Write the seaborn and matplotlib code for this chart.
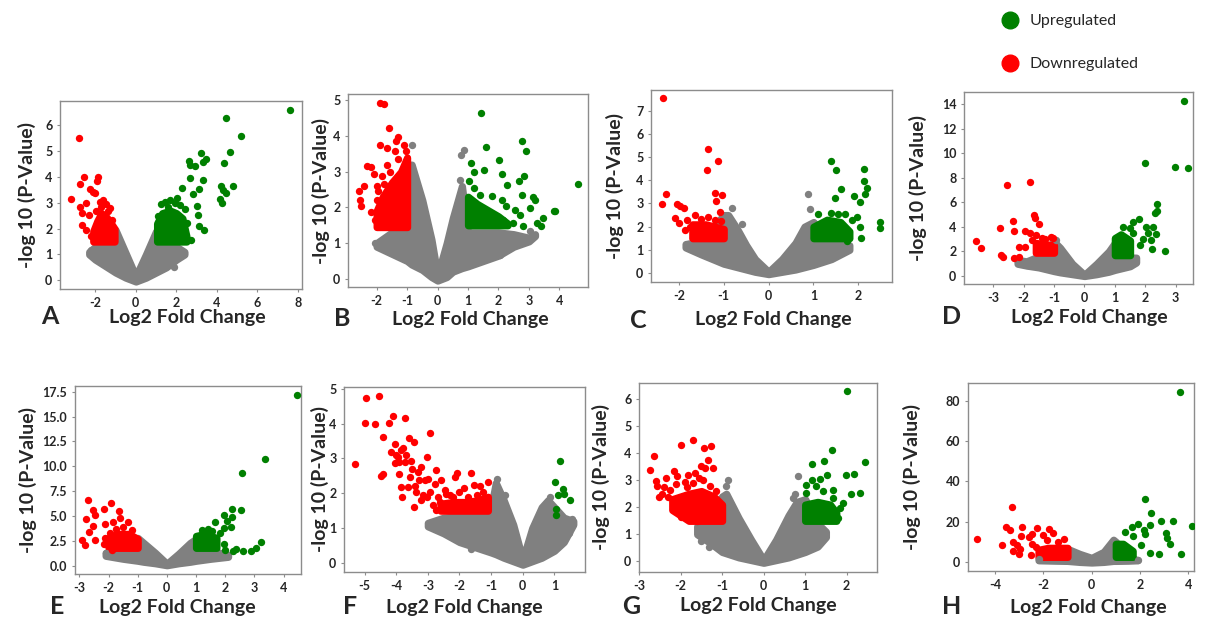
import matplotlib
matplotlib.use("Agg")
import matplotlib.pyplot as plt
from matplotlib.lines import Line2D
import seaborn as sns

# ---------------- data ----------------
# Panel A
A_gray_x = [-2.3, -2.0, -1.5, -1.0, -0.5, 0.0, 0.5, 1.0, 1.5, 2.0, 2.4]
A_gray_lo = [1.0, 0.8, 0.55, 0.3, 0.1, -0.05, 0.1, 0.3, 0.5, 0.8, 1.0]
A_gray_hi = [1.1, 1.3, 1.4, 1.95, 1.05, 0.15, 1.0, 1.9, 1.4, 1.3, 1.1]
A_gray_px = [-2.22, 2.27, 1.86]
A_gray_py = [1.17, 1.04, 0.53]
A_redblk_x = [-2.1, -1.9, -1.7, -1.5, -1.3, -1.05]
A_redblk_lo = [1.5, 1.5, 1.5, 1.5, 1.5, 1.5]
A_redblk_hi = [1.9, 2.3, 2.6, 2.5, 2.3, 2.0]
A_red_x = [-2.80, -3.19, -2.58, -2.75, -1.88, -1.93, -2.26, -2.00, -2.75, -2.47, -2.67, -2.29, -2.65, -2.45, -1.27, -1.76, -2.09, -1.62, -1.45, -1.35, -1.95, -2.20, -1.15, -1.70]
A_red_y = [5.50, 3.14, 4.01, 3.73, 3.99, 3.86, 3.52, 3.39, 2.85, 2.98, 2.62, 2.53, 2.14, 1.95, 2.79, 3.05, 3.43, 3.10, 2.95, 2.70, 2.70, 1.70, 2.35, 2.85]
A_grnblk_x = [1.05, 1.3, 1.7, 2.0, 2.3, 2.5]
A_grnblk_lo = [1.5, 1.5, 1.5, 1.5, 1.5, 1.5]
A_grnblk_hi = [2.2, 2.6, 2.7, 2.6, 2.4, 1.7]
A_grn_x = [7.59, 4.46, 5.20, 4.66, 4.36, 4.82, 4.21, 4.30, 4.43, 4.16, 4.25, 3.21, 3.47, 3.31, 2.63, 2.68, 2.93, 2.68, 3.31, 2.30, 3.13, 2.81, 3.01, 3.06, 3.37, 3.13, 2.72, 2.55, 1.25, 1.45, 1.70, 1.95, 2.20, 2.45, 1.10, 1.60, 2.05]
A_grn_y = [6.59, 6.31, 5.59, 4.98, 4.55, 3.65, 3.65, 3.50, 3.37, 3.14, 3.01, 4.92, 4.72, 4.59, 4.63, 4.46, 4.43, 3.95, 3.88, 3.56, 3.52, 3.34, 2.88, 2.53, 1.95, 2.10, 1.56, 2.21, 2.95, 3.05, 3.10, 3.00, 2.90, 2.75, 2.50, 2.85, 3.20]

# Panel B
B_gray_x = [-2.0, -1.5, -1.0, -0.85, -0.5, -0.2, 0.0, 0.3, 0.5, 0.8, 1.0, 1.5, 2.0, 2.5, 3.0, 3.2]
B_gray_lo = [0.9, 0.7, 0.5, 0.4, 0.25, 0.05, -0.05, 0.05, 0.2, 0.3, 0.35, 0.5, 0.65, 0.9, 1.05, 1.2]
B_gray_hi = [1.0, 1.3, 3.2, 3.2, 2.2, 1.1, 0.1, 1.0, 1.7, 2.6, 1.3, 1.3, 1.3, 1.25, 1.15, 1.25]
B_gray_px = [-0.83, 0.76, 0.87, 0.73, -2.06, 3.02, 2.32, 2.60, 2.05, 1.78]
B_gray_py = [3.76, 3.46, 3.60, 2.78, 1.00, 1.33, 1.00, 1.00, 0.67, 0.63]
B_redblk_x = [-2.0, -1.8, -1.5, -1.2, -1.0]
B_redblk_lo = [1.45, 1.45, 1.45, 1.45, 1.45]
B_redblk_hi = [1.9, 2.3, 2.7, 3.0, 3.4]
B_red_x = [-1.88, -1.75, -1.59, -1.88, -1.29, -1.35, -1.66, -1.40, -1.02, -2.30, -2.17, -2.09, -2.42, -2.00, -2.58, -2.56, -2.52, -2.20, -1.98, -1.81, -1.66, -1.95, -1.75, -1.55, -1.30, -1.10, -2.05]
B_red_y = [4.94, 4.91, 4.22, 3.76, 3.97, 3.87, 3.68, 3.57, 3.57, 3.17, 3.13, 2.93, 2.59, 2.59, 2.45, 2.21, 2.05, 1.86, 2.21, 2.87, 3.20, 2.45, 2.65, 3.00, 3.35, 3.75, 1.65]
B_grnblk_x = [1.0, 1.3, 1.6, 2.0, 2.3]
B_grnblk_lo = [1.5, 1.5, 1.5, 1.5, 1.5]
B_grnblk_hi = [2.3, 2.1, 1.95, 1.75, 1.55]
B_grn_x = [1.43, 1.58, 4.61, 2.77, 2.91, 1.09, 2.02, 1.20, 1.52, 2.11, 2.27, 2.68, 2.84, 2.76, 3.15, 3.20, 1.03, 1.20, 1.39, 1.78, 2.11, 2.25, 2.54, 2.71, 3.04, 3.83, 3.87, 3.45, 3.39, 3.26, 2.49, 2.82, 2.16]
B_grn_y = [4.66, 3.69, 2.65, 3.85, 3.57, 3.24, 3.34, 2.98, 3.06, 2.93, 2.64, 2.75, 2.87, 2.36, 2.29, 2.20, 2.73, 2.54, 2.36, 2.31, 2.21, 2.05, 1.92, 1.79, 1.98, 1.89, 1.89, 1.70, 1.47, 1.56, 1.56, 1.47, 1.65]

# Panel C
C_gray_x = [-1.85, -1.5, -1.0, -0.9, -0.7, -0.5, -0.3, 0.0, 0.3, 0.6, 0.8, 1.0, 1.4, 1.8]
C_gray_lo = [1.1, 0.8, 0.4, 0.35, 0.25, 0.15, 0.05, -0.05, 0.05, 0.15, 0.25, 0.35, 0.6, 1.0]
C_gray_hi = [1.25, 1.35, 2.5, 2.5, 1.9, 1.2, 0.6, 0.05, 0.6, 1.3, 2.0, 2.2, 1.35, 1.2]
C_gray_px = [-0.82, -0.60, -1.80, 0.88, 0.92, 1.45, 1.55, 1.62]
C_gray_py = [2.80, 2.10, 1.25, 3.40, 2.75, 0.70, 0.80, 0.85]
C_redblk_x = [-1.7, -1.4, -1.2, -1.0]
C_redblk_lo = [1.5, 1.5, 1.5, 1.5]
C_redblk_hi = [2.1, 2.1, 2.0, 1.9]
C_red_x = [-2.36, -2.28, -2.38, -1.34, -1.12, -1.38, -1.19, -1.04, -1.17, -1.09, -2.03, -1.97, -1.88, -2.08, -2.00, -1.81, -1.86, -1.65, -1.50, -1.35, -1.20, -1.05, -1.75]
C_red_y = [7.55, 3.41, 2.97, 5.35, 4.85, 4.44, 3.46, 3.36, 3.12, 2.64, 2.96, 2.89, 2.79, 2.38, 2.14, 2.28, 1.85, 2.50, 2.35, 2.40, 2.30, 2.25, 2.00]
C_grnblk_x = [1.0, 1.3, 1.6, 1.8]
C_grnblk_lo = [1.5, 1.5, 1.5, 1.5]
C_grnblk_hi = [2.0, 2.3, 2.2, 1.8]
C_grn_x = [1.39, 1.51, 2.12, 2.12, 2.19, 1.62, 1.47, 1.90, 2.14, 2.03, 2.49, 2.48, 2.06, 1.75, 1.97, 2.04, 1.10, 1.40, 1.55, 1.70, 1.85]
C_grn_y = [4.83, 4.44, 4.49, 3.97, 3.68, 3.62, 3.25, 3.32, 3.39, 3.07, 2.21, 1.95, 1.53, 1.37, 2.42, 1.99, 2.55, 2.60, 2.55, 2.55, 2.30]

# Panel D
D_gray_x = [-2.2, -1.9, -1.5, -1.0, -0.8, -0.4, 0.0, 0.4, 0.8, 1.0, 1.5, 1.7]
D_gray_lo = [1.0, 0.85, 0.7, 0.4, 0.3, 0.15, 0.0, 0.15, 0.35, 0.5, 0.8, 1.1]
D_gray_hi = [1.3, 1.2, 1.6, 2.8, 2.3, 1.0, 0.1, 1.0, 2.0, 2.7, 1.5, 1.5]
D_gray_px = [-2.19, -1.89, -0.92]
D_gray_py = [1.30, 0.90, 2.90]
D_redblk_x = [-1.6, -1.3, -1.0]
D_redblk_lo = [1.9, 1.9, 1.9]
D_redblk_hi = [2.7, 2.6, 2.5]
D_red_x = [-2.54, -1.78, -3.58, -3.41, -2.76, -2.74, -2.67, -2.34, -2.30, -2.32, -2.16, -2.16, -1.97, -1.94, -1.80, -1.65, -1.61, -1.50, -1.58, -1.72, -1.40, -1.31, -1.10, -1.04]
D_red_y = [7.41, 7.68, 2.85, 2.25, 3.88, 1.71, 1.57, 4.50, 3.69, 1.44, 1.52, 2.33, 3.69, 2.33, 3.53, 4.96, 4.69, 4.23, 3.34, 2.93, 3.07, 2.98, 3.20, 3.07]
D_grnblk_x = [1.0, 1.2, 1.5]
D_grnblk_lo = [1.7, 1.7, 1.7]
D_grnblk_hi = [3.1, 3.4, 2.9]
D_grn_x = [3.26, 1.98, 2.97, 3.40, 2.37, 2.37, 2.31, 1.80, 1.60, 2.04, 2.26, 2.09, 2.34, 2.20, 2.64, 2.22, 1.82, 1.60, 1.91, 1.49, 1.28, 1.36]
D_grn_y = [14.27, 9.25, 8.90, 8.82, 5.86, 5.32, 5.10, 4.61, 4.42, 4.02, 3.96, 3.47, 3.42, 2.93, 2.06, 2.17, 2.52, 3.47, 2.98, 3.88, 4.02, 2.66]

# Panel E
E_gray_x = [-2.1, -1.5, -1.0, -0.8, -0.4, 0.0, 0.4, 0.8, 1.0, 1.5, 2.1]
E_gray_lo = [1.0, 0.7, 0.5, 0.4, 0.25, 0.05, 0.25, 0.4, 0.5, 0.7, 0.9]
E_gray_hi = [1.3, 1.5, 2.8, 2.3, 1.3, 0.2, 1.2, 2.3, 2.7, 1.5, 1.1]
E_gray_px = [-2.10, 2.05]
E_gray_py = [1.30, 1.00]
E_redblk_x = [-2.0, -1.7, -1.3, -1.0]
E_redblk_lo = [1.8, 1.8, 1.8, 1.8]
E_redblk_hi = [2.8, 3.2, 3.2, 2.7]
E_red_x = [-2.72, -1.91, -2.54, -2.46, -2.78, -2.15, -1.63, -1.32, -1.60, -2.54, -2.13, -1.83, -2.66, -2.90, -2.46, -2.81, -2.13, -2.15, -1.89, -1.75, -1.50, -1.20, -1.95]
E_red_y = [6.56, 6.35, 5.62, 5.12, 4.68, 5.69, 5.52, 4.35, 4.78, 3.95, 4.21, 4.35, 3.44, 2.61, 2.61, 2.11, 2.78, 2.21, 1.61, 3.70, 3.90, 3.60, 3.30]
E_grnblk_x = [1.0, 1.3, 1.7]
E_grnblk_lo = [1.8, 1.8, 1.8]
E_grnblk_hi = [3.0, 3.2, 2.8]
E_grn_x = [4.45, 3.37, 2.56, 2.54, 2.22, 1.97, 2.22, 2.07, 1.65, 2.19, 1.95, 1.83, 3.22, 3.05, 2.90, 2.60, 2.36, 2.27, 1.95, 2.01, 1.20, 1.40, 1.55]
E_grn_y = [17.16, 10.70, 9.30, 5.62, 5.69, 5.12, 4.88, 4.45, 4.35, 3.85, 3.78, 3.34, 2.37, 1.77, 1.44, 1.44, 1.67, 1.44, 2.21, 1.61, 3.60, 3.70, 3.50]

# Panel F
F_gray_x = [-3.0, -2.5, -2.0, -1.5, -1.0, -0.85, -0.6, -0.3, 0.0, 0.3, 0.6, 0.8, 1.0, 1.3, 1.6]
F_gray_lo = [1.05, 0.85, 0.6, 0.45, 0.3, 0.25, 0.15, 0.05, -0.05, 0.05, 0.15, 0.25, 0.35, 0.6, 1.1]
F_gray_hi = [1.15, 1.3, 1.35, 1.4, 1.6, 2.3, 1.8, 1.1, 0.1, 1.0, 1.6, 1.8, 1.6, 1.3, 1.2]
F_gray_px = [-2.89, -2.52, -1.62, -0.82, -0.65, -0.55, 0.85, 1.55, 1.45, 1.25]
F_gray_py = [1.11, 1.03, 0.41, 2.42, 1.90, 1.95, 1.90, 1.25, 0.85, 0.90]
F_redblk_x = [-2.6, -2.2, -1.8, -1.4, -1.1]
F_redblk_lo = [1.5, 1.5, 1.5, 1.5, 1.5]
F_redblk_hi = [1.7, 1.75, 1.75, 1.8, 1.9]
F_red_x = [-5.30, -4.97, -4.55, -5.00, -4.66, -4.24, -4.10, -3.73, -4.42, -2.94, -3.60, -3.45, -4.42, -4.49, -4.05, -4.15, -3.84, -3.94, -4.05, -3.73, -3.52, -3.92, -3.86, -3.82, -3.45, -3.20, -3.01, -3.10, -3.29, -3.57, -2.78, -2.94, -3.20, -2.75, -2.67, -2.41, -2.57, -2.73, -2.15, -2.09, -1.62, -1.11, -1.35, -2.20, -1.72, -1.46, -3.04, -3.36, -3.63, -3.90, -3.70, -3.50, -3.30, -3.40, -3.00, -2.60, -3.80, -4.00, -2.85, -2.45, -2.00, -1.85, -1.55, -1.25, -3.15, -2.30]
F_red_y = [2.85, 4.74, 4.79, 4.02, 3.98, 4.02, 4.21, 4.16, 3.61, 3.74, 3.59, 3.47, 2.56, 2.49, 3.42, 3.18, 3.23, 3.04, 2.87, 2.90, 2.94, 2.56, 2.18, 1.89, 1.61, 2.75, 3.04, 2.37, 2.37, 2.47, 2.28, 2.04, 1.80, 2.66, 1.89, 1.99, 2.37, 1.51, 2.47, 2.58, 2.58, 2.32, 2.20, 1.89, 1.89, 1.94, 1.89, 2.04, 2.18, 2.90, 3.10, 2.70, 2.60, 2.20, 2.40, 1.75, 3.30, 3.10, 1.65, 2.10, 2.05, 2.15, 2.25, 2.05, 1.95, 1.95]
F_grn_x = [1.18, 1.03, 1.29, 1.32, 1.13, 1.50, 1.05, 1.05]
F_grn_y = [2.93, 2.32, 2.13, 1.97, 1.94, 1.82, 1.56, 1.37]

# Panel G
G_gray_x = [-1.6, -1.3, -1.0, -0.9, -0.6, -0.3, 0.0, 0.3, 0.6, 0.8, 1.0, 1.3, 1.5]
G_gray_lo = [1.0, 0.7, 0.35, 0.3, 0.15, 0.05, -0.05, 0.05, 0.15, 0.25, 0.35, 0.55, 0.9]
G_gray_hi = [1.3, 1.4, 2.4, 2.5, 1.6, 0.8, 0.05, 0.8, 1.7, 2.2, 2.3, 1.4, 1.1]
G_gray_px = [-0.86, -0.91, -1.51, -1.31, -0.95, 0.83, 0.70, 0.76]
G_gray_py = [3.02, 2.77, 0.74, 0.55, 0.43, 3.14, 2.34, 2.50]
G_redblk_x = [-2.2, -1.8, -1.5, -1.2, -1.0]
G_redblk_lo = [1.9, 1.5, 1.5, 1.5, 1.5]
G_redblk_hi = [2.3, 2.5, 2.6, 2.4, 2.1]
G_red_x = [-2.74, -2.64, -1.98, -1.71, -1.43, -1.27, -1.33, -1.23, -1.41, -1.51, -2.60, -2.56, -2.52, -2.34, -2.16, -2.08, -2.29, -2.02, -2.00, -1.60, -1.83, -1.55, -2.40, -2.25, -2.10, -1.90, -1.70, -1.45, -1.30, -1.15, -2.45, -1.85, -1.65]
G_red_y = [3.36, 3.90, 4.29, 4.47, 4.19, 4.27, 3.73, 3.45, 3.45, 3.51, 2.96, 2.77, 2.38, 3.08, 3.33, 3.14, 2.38, 1.85, 1.63, 1.48, 3.20, 3.08, 2.75, 2.65, 2.85, 2.95, 2.90, 3.00, 2.80, 2.60, 2.50, 2.75, 3.25]
G_grnblk_x = [1.0, 1.3, 1.6, 1.75]
G_grnblk_lo = [1.5, 1.5, 1.5, 1.5]
G_grnblk_hi = [2.1, 2.2, 2.1, 1.8]
G_grn_x = [2.00, 2.44, 1.98, 2.18, 2.10, 2.32, 1.65, 1.45, 1.17, 1.53, 1.35, 1.17, 1.02, 1.03, 1.27, 1.43, 1.67, 1.67, 1.90, 1.79, 1.83]
G_grn_y = [6.28, 3.69, 3.20, 3.23, 2.50, 2.52, 4.13, 3.72, 3.60, 3.18, 3.04, 2.99, 2.83, 2.52, 2.77, 2.59, 2.65, 2.34, 2.16, 1.60, 1.97]

# Panel H
H_gray_x = [-2.2, -1.5, -1.0, -0.5, 0.0, 0.5, 0.9, 1.0, 1.5, 1.9]
H_gray_lo = [0.8, 0.6, 0.5, 0.0, -0.3, 0.0, 0.5, 0.5, 0.6, 0.8]
H_gray_hi = [1.5, 2.0, 6.5, 4.0, 2.0, 5.0, 11.0, 10.0, 2.0, 1.0]
H_gray_px = [-2.20, 1.90]
H_gray_py = [1.5, 1.0]
H_redblk_x = [-2.2, -1.8, -1.4, -1.0]
H_redblk_lo = [2.5, 2.5, 2.5, 2.5]
H_redblk_hi = [6.0, 7.0, 7.0, 7.0]
H_red_x = [-4.74, -3.29, -3.54, -3.36, -3.70, -3.26, -3.09, -2.88, -2.91, -3.26, -3.01, -2.45, -2.47, -2.25, -2.01, -1.78, -1.60, -1.84, -1.15, -1.39, -2.59, -2.98, -2.29, -2.50]
H_red_y = [11.6, 27.3, 17.4, 15.7, 8.3, 9.9, 8.3, 17.4, 12.9, 5.5, 4.1, 8.8, 13.7, 16.6, 13.2, 16.1, 14.1, 10.8, 11.6, 9.9, 12.4, 6.6, 7.5, 3.3]
H_grnblk_x = [1.0, 1.3, 1.7]
H_grnblk_lo = [2.5, 2.5, 2.5]
H_grnblk_hi = [9.0, 9.0, 5.5]
H_grn_x = [3.65, 2.23, 2.45, 2.88, 3.37, 4.16, 1.90, 1.66, 2.43, 2.18, 2.22, 3.08, 3.12, 3.26, 2.04, 2.41, 2.80, 3.72, 1.39, 1.73]
H_grn_y = [84.4, 31.1, 24.5, 20.4, 20.4, 17.7, 18.7, 17.4, 18.2, 15.7, 13.7, 14.4, 12.1, 8.8, 8.3, 4.5, 3.8, 4.1, 14.9, 12.7]

# tick labels
A_xticks = [-2, 0, 2, 4, 6, 8]; A_yticks = [0, 1, 2, 3, 4, 5, 6]
B_xticks = [-2, -1, 0, 1, 2, 3, 4]; B_yticks = [0, 1, 2, 3, 4, 5]
C_xticks = [-2, -1, 0, 1, 2]; C_yticks = [0, 1, 2, 3, 4, 5, 6, 7]
D_xticks = [-3, -2, -1, 0, 1, 2, 3]; D_yticks = [0, 2, 4, 6, 8, 10, 12, 14]
E_xticks = [-3, -2, -1, 0, 1, 2, 3, 4]; E_yticks = [0.0, 2.5, 5.0, 7.5, 10.0, 12.5, 15.0, 17.5]
F_xticks = [-5, -4, -3, -2, -1, 0, 1]; F_yticks = [0, 1, 2, 3, 4, 5]
G_xticks = [-3, -2, -1, 0, 1, 2]; G_yticks = [0, 1, 2, 3, 4, 5, 6]
H_xticks = [-4, -2, 0, 2, 4]; H_yticks = [0, 20, 40, 60, 80]

X_LABEL = "Log2 Fold Change"
Y_LABEL = "-log 10 (P-Value)"
LEGEND_LABELS = ["Upregulated", "Downregulated"]

# ---------------- style ----------------
GRAY = "#808080"
RED = "#ff0000"
GREEN = "#008000"
S = 28          # marker area (pt^2)
EDGE_LW = 5.2   # dilation of dense areas (≈ marker diameter)

sns.set_theme(style="white")
plt.rcParams["font.family"] = ["Lato", "DejaVu Sans"]
plt.rcParams["axes.unicode_minus"] = False

W, H = 1205, 619
fig = plt.figure(figsize=(W / 100, H / 100), dpi=100)

panels = [
    dict(name="A", box=(60, 302, 101, 289), xlim=(-3.74, 8.2), ylim=(-0.34, 6.95),
         xt=A_xticks, yt=A_yticks, letter=(50, 317), xlab=(187, 318), ylab=27,
         g=(A_gray_x, A_gray_lo, A_gray_hi, A_gray_px, A_gray_py),
         r=(A_redblk_x, A_redblk_lo, A_redblk_hi, A_red_x, A_red_y),
         u=(A_grnblk_x, A_grnblk_lo, A_grnblk_hi, A_grn_x, A_grn_y)),
    dict(name="B", box=(348, 588, 94, 287), xlim=(-2.94, 4.94), ylim=(-0.23, 5.18),
         xt=B_xticks, yt=B_yticks, letter=(342, 318), xlab=(470, 319), ylab=321,
         g=(B_gray_x, B_gray_lo, B_gray_hi, B_gray_px, B_gray_py),
         r=(B_redblk_x, B_redblk_lo, B_redblk_hi, B_red_x, B_red_y),
         u=(B_grnblk_x, B_grnblk_lo, B_grnblk_hi, B_grn_x, B_grn_y)),
    dict(name="C", box=(651, 892, 90, 282), xlim=(-2.62, 2.75), ylim=(-0.39, 7.9),
         xt=C_xticks, yt=C_yticks, letter=(638, 320), xlab=(773, 320), ylab=615,
         g=(C_gray_x, C_gray_lo, C_gray_hi, C_gray_px, C_gray_py),
         r=(C_redblk_x, C_redblk_lo, C_redblk_hi, C_red_x, C_red_y),
         u=(C_grnblk_x, C_grnblk_lo, C_grnblk_hi, C_grn_x, C_grn_y)),
    dict(name="D", box=(964, 1193, 92, 284), xlim=(-3.96, 3.57), ylim=(-0.65, 15.0),
         xt=D_xticks, yt=D_yticks, letter=(952, 317), xlab=(1089, 318), ylab=918,
         g=(D_gray_x, D_gray_lo, D_gray_hi, D_gray_px, D_gray_py),
         r=(D_redblk_x, D_redblk_lo, D_redblk_hi, D_red_x, D_red_y),
         u=(D_grnblk_x, D_grnblk_lo, D_grnblk_hi, D_grn_x, D_grn_y)),
    dict(name="E", box=(75, 301, 386, 574), xlim=(-3.15, 4.6), ylim=(-0.83, 18.07),
         xt=E_xticks, yt=E_yticks, letter=(57, 606), xlab=(177, 607), ylab=28,
         g=(E_gray_x, E_gray_lo, E_gray_hi, E_gray_px, E_gray_py),
         r=(E_redblk_x, E_redblk_lo, E_redblk_hi, E_red_x, E_red_y),
         u=(E_grnblk_x, E_grnblk_lo, E_grnblk_hi, E_grn_x, E_grn_y)),
    dict(name="F", box=(344, 585, 387, 572), xlim=(-5.65, 1.97), ylim=(-0.26, 5.05),
         xt=F_xticks, yt=F_yticks, letter=(350, 606), xlab=(464, 607), ylab=320,
         g=(F_gray_x, F_gray_lo, F_gray_hi, F_gray_px, F_gray_py),
         r=(F_redblk_x, F_redblk_lo, F_redblk_hi, F_red_x, F_red_y),
         u=(None, None, None, F_grn_x, F_grn_y)),
    dict(name="G", box=(639, 877, 383, 572), xlim=(-2.97, 2.73), ylim=(-0.39, 6.59),
         xt=G_xticks, yt=G_yticks, letter=(631, 606), xlab=(758, 606), ylab=601,
         g=(G_gray_x, G_gray_lo, G_gray_hi, G_gray_px, G_gray_py),
         r=(G_redblk_x, G_redblk_lo, G_redblk_hi, G_red_x, G_red_y),
         u=(G_grnblk_x, G_grnblk_lo, G_grnblk_hi, G_grn_x, G_grn_y)),
    dict(name="H", box=(968, 1194, 383, 571), xlim=(-5.12, 4.24), ylim=(-4.5, 88.7),
         xt=H_xticks, yt=H_yticks, letter=(952, 606), xlab=(1088, 607), ylab=912,
         g=(H_gray_x, H_gray_lo, H_gray_hi, H_gray_px, H_gray_py),
         r=(H_redblk_x, H_redblk_lo, H_redblk_hi, H_red_x, H_red_y),
         u=(H_grnblk_x, H_grnblk_lo, H_grnblk_hi, H_grn_x, H_grn_y)),
]


def dense(ax, x, lo, hi, color):
    if x is None:
        return
    ax.fill_between(x, lo, hi, color=color, edgecolor=color, linewidth=EDGE_LW,
                    joinstyle="round", zorder=2)


def pts(ax, x, y, color):
    sns.scatterplot(x=x, y=y, color=color, s=S, linewidth=0, ax=ax, zorder=3)


for p in panels:
    l, r, t, b = p["box"]
    ax = fig.add_axes([l / W, 1 - b / H, (r - l) / W, (b - t) / H])
    gx, glo, ghi, gpx, gpy = p["g"]
    dense(ax, gx, glo, ghi, GRAY)
    pts(ax, gpx, gpy, GRAY)
    rx, rlo, rhi, rpx, rpy = p["r"]
    dense(ax, rx, rlo, rhi, RED)
    pts(ax, rpx, rpy, RED)
    ux, ulo, uhi, upx, upy = p["u"]
    dense(ax, ux, ulo, uhi, GREEN)
    pts(ax, upx, upy, GREEN)

    ax.set_xlim(*p["xlim"])
    ax.set_ylim(*p["ylim"])
    ax.set_xticks(p["xt"])
    ax.set_yticks(p["yt"])
    ax.tick_params(axis="both", length=2.5, width=0.8, color="#8c8c8c",
                   direction="out", pad=3, labelsize=9)
    ax.tick_params(axis="x", bottom=True)
    ax.tick_params(axis="y", left=True)
    for lab in ax.get_xticklabels() + ax.get_yticklabels():
        lab.set_fontweight("bold")
    for sp in ax.spines.values():
        sp.set_color("#8c8c8c")
        sp.set_linewidth(1.0)

    ax.set_xlabel(X_LABEL, fontsize=14, fontweight="bold", va="center")
    ax.xaxis.set_label_coords((p["xlab"][0] - l) / (r - l), (b - p["xlab"][1]) / (b - t))
    ax.set_ylabel(Y_LABEL, fontsize=14, fontweight="bold", va="center")
    ax.yaxis.set_label_coords((p["ylab"] - l) / (r - l), 0.5)

    lx, ly = p["letter"]
    fig.text(lx / W, 1 - ly / H, p["name"], fontsize=18, fontweight="bold",
             ha="center", va="center")

handles = [Line2D([], [], marker="o", linestyle="", markersize=12, color=GREEN),
           Line2D([], [], marker="o", linestyle="", markersize=12, color=RED)]
fig.legend(handles, LEGEND_LABELS, loc="upper left", bbox_to_anchor=(1000 / W, 1 - 14 / H),
           frameon=False, fontsize=11.5, borderpad=0, borderaxespad=0, handlelength=1.2,
           handletextpad=0.65, labelspacing=1.8)

fig.savefig("out.png", dpi=100)
